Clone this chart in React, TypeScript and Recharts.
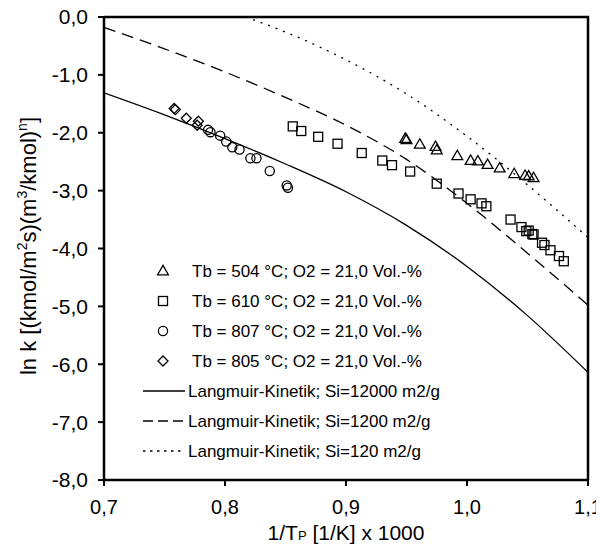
import { Scatter, ScatterChart, XAxis, YAxis } from 'recharts';

const FONT = '"Liberation Sans", Arial, Helvetica, sans-serif';

const xTicks = [0.7, 0.8, 0.9, 1.0, 1.1];
const yTicks = [0, -1, -2, -3, -4, -5, -6, -7, -8];

// measured points [1/T x 1000, ln k]
const tb504 = [
  [0.949, -2.1], [0.95, -2.12], [0.961, -2.2], [0.974, -2.24], [0.975, -2.3],
  [0.992, -2.4], [1.003, -2.48], [1.009, -2.49], [1.017, -2.55], [1.027, -2.61],
  [1.039, -2.71], [1.048, -2.74], [1.051, -2.75], [1.055, -2.78],
];
const tb610 = [
  [0.856, -1.89], [0.863, -1.97], [0.877, -2.07], [0.893, -2.19], [0.913, -2.35],
  [0.93, -2.48], [0.938, -2.56], [0.953, -2.67], [0.975, -2.88], [0.993, -3.05],
  [1.003, -3.15], [1.012, -3.22], [1.016, -3.27], [1.036, -3.5], [1.045, -3.63],
  [1.049, -3.7], [1.051, -3.69], [1.054, -3.75], [1.055, -3.76], [1.062, -3.9],
  [1.064, -3.94], [1.069, -4.03], [1.076, -4.13], [1.08, -4.22],
];
const tb807 = [
  [0.786, -1.95], [0.788, -1.99], [0.796, -2.05], [0.801, -2.15], [0.806, -2.25],
  [0.812, -2.29], [0.821, -2.44], [0.826, -2.44], [0.837, -2.66], [0.851, -2.91],
  [0.852, -2.95],
];
const tb805 = [
  [0.758, -1.58], [0.759, -1.6], [0.768, -1.75], [0.778, -1.8], [0.777, -1.87],
];

// Langmuir model curves
const curveX = [0.7, 0.75, 0.8, 0.85, 0.9, 0.95, 1.0, 1.05, 1.1];
const si12000 = [-1.31, -1.69, -2.1, -2.54, -3.02, -3.6, -4.31, -5.16, -6.14];
const si1200 = [-0.18, -0.55, -0.95, -1.39, -1.87, -2.46, -3.22, -4.08, -4.98];
const si120X = [0.817, 0.85, 0.9, 0.95, 1.0, 1.05, 1.1];
const si120 = [0.0, -0.26, -0.74, -1.33, -2.06, -2.9, -3.81];

const legendLabels = [
  'Tb = 504 °C; O2 = 21,0 Vol.-%',
  'Tb = 610 °C; O2 = 21,0 Vol.-%',
  'Tb = 807 °C; O2 = 21,0 Vol.-%',
  'Tb = 805 °C; O2 = 21,0 Vol.-%',
  'Langmuir-Kinetik; Si=12000 m2/g',
  'Langmuir-Kinetik; Si=1200 m2/g',
  'Langmuir-Kinetik; Si=120 m2/g',
];

type Kind = 'triangle' | 'square' | 'circle' | 'diamond';

const toPoints = (rows: number[][]) => rows.map(([x, y]) => ({ x, y }));
const toCurve = (xs: number[], ys: number[]) => xs.map((x, i) => ({ x, y: ys[i] }));
const fmt = (v: number) => v.toFixed(1).replace('.', ',');

function Marker({ kind, cx, cy }: { kind: Kind; cx: number; cy: number }) {
  const common = { fill: 'none', stroke: '#000', strokeWidth: 1.3 };
  if (kind === 'triangle')
    return (
      <polygon
        points={`${cx},${cy - 5.6} ${cx - 5.4},${cy + 3.8} ${cx + 5.4},${cy + 3.8}`}
        {...common}
      />
    );
  if (kind === 'square') return <rect x={cx - 4.5} y={cy - 4.5} width={9} height={9} {...common} />;
  if (kind === 'circle') return <circle cx={cx} cy={cy} r={4.6} {...common} />;
  return (
    <polygon points={`${cx},${cy - 5} ${cx + 5},${cy} ${cx},${cy + 5} ${cx - 5},${cy}`} {...common} />
  );
}

const markerShape = (kind: Kind) => (p: any) => <Marker kind={kind} cx={p.cx} cy={p.cy} />;
const noShape = () => <g />;

function YTitle() {
  const x = 36;
  const y = 246;
  return (
    <text
      x={x}
      y={y}
      transform={`rotate(-90, ${x}, ${y})`}
      textAnchor="middle"
      fontSize={22}
      fontFamily={FONT}
      fill="#000"
    >
      ln k [(kmol/m
      <tspan dy={-9} fontSize={14}>2</tspan>
      <tspan dy={9}>s)(m</tspan>
      <tspan dy={-9} fontSize={14}>3</tspan>
      <tspan dy={9}>/kmol)</tspan>
      <tspan dy={-9} fontSize={14}>n</tspan>
      <tspan dy={9}>]</tspan>
    </text>
  );
}

function XTitle() {
  return (
    <text x={346} y={540} textAnchor="middle" fontSize={21} fontFamily={FONT} fill="#000">
      1/T<tspan fontSize={13}>P</tspan> [1/K] x 1000
    </text>
  );
}

const kinds: Kind[] = ['triangle', 'square', 'circle', 'diamond'];
const legendDash = [undefined, '10 5', '2.5 4.5'];

// frame (top and right edges) + legend drawn over the chart
function Overlay() {
  return (
    <svg
      width={604}
      height={544}
      style={{ position: 'absolute', left: 0, top: 0, pointerEvents: 'none' }}
    >
      <polyline points="104,17 588,17 588,480" fill="none" stroke="#000" strokeWidth={2.5} />
      {legendLabels.map((label, i) => {
        const cy = 271 + 30 * i;
        const isMarker = i < 4;
        return (
          <g key={label}>
            {isMarker ? (
              <Marker kind={kinds[i]} cx={163} cy={cy} />
            ) : (
              <line
                x1={143}
                x2={185}
                y1={cy}
                y2={cy}
                stroke="#000"
                strokeWidth={1.3}
                strokeDasharray={legendDash[i - 4]}
              />
            )}
            <text x={isMarker ? 192 : 188} y={cy + 6} fontSize={17} fontFamily={FONT} fill="#000">
              {label}
            </text>
          </g>
        );
      })}
    </svg>
  );
}

export default function App() {
  const axisLine = { stroke: '#000', strokeWidth: 2.5 };
  const tickLine = { stroke: '#000', strokeWidth: 2 };
  const xTick = { fill: '#000', fontSize: 20, fontFamily: FONT };
  const yTick = { fill: '#000', fontSize: 21, fontFamily: FONT };
  return (
    <div style={{ position: 'relative', width: 596, height: 536, fontFamily: FONT }}>
      <div style={{ position: 'absolute', left: -8, top: -8, width: 604, height: 544 }}>
        <ScatterChart width={604} height={544} margin={{ top: 17, right: 16, bottom: 0, left: 8 }}>
          <XAxis
            type="number"
            dataKey="x"
            domain={[0.7, 1.1]}
            ticks={xTicks}
            interval={0}
            tickFormatter={fmt}
            allowDataOverflow
            axisLine={axisLine}
            tickLine={tickLine}
            tickSize={6}
            tickMargin={14}
            tick={xTick}
            height={64}
            label={<XTitle />}
          />
          <YAxis
            type="number"
            dataKey="y"
            domain={[-8, 0]}
            ticks={yTicks}
            interval={0}
            tickFormatter={fmt}
            allowDataOverflow
            axisLine={axisLine}
            tickLine={tickLine}
            tickSize={6}
            tickMargin={10}
            tick={yTick}
            width={96}
            label={<YTitle />}
          />
          <Scatter
            name="Langmuir-Kinetik; Si=12000 m2/g"
            data={toCurve(curveX, si12000)}
            line={{ stroke: '#000', strokeWidth: 1.3 }}
            lineJointType="monotoneX"
            shape={noShape}
            isAnimationActive={false}
          />
          <Scatter
            name="Langmuir-Kinetik; Si=1200 m2/g"
            data={toCurve(curveX, si1200)}
            line={{ stroke: '#000', strokeWidth: 1.3, strokeDasharray: '12 7' }}
            lineJointType="monotoneX"
            shape={noShape}
            isAnimationActive={false}
          />
          <Scatter
            name="Langmuir-Kinetik; Si=120 m2/g"
            data={toCurve(si120X, si120)}
            line={{ stroke: '#000', strokeWidth: 1.3, strokeDasharray: '2 6' }}
            lineJointType="monotoneX"
            shape={noShape}
            isAnimationActive={false}
          />
          <Scatter name="Tb = 504" data={toPoints(tb504)} shape={markerShape('triangle')} isAnimationActive={false} />
          <Scatter name="Tb = 610" data={toPoints(tb610)} shape={markerShape('square')} isAnimationActive={false} />
          <Scatter name="Tb = 807" data={toPoints(tb807)} shape={markerShape('circle')} isAnimationActive={false} />
          <Scatter name="Tb = 805" data={toPoints(tb805)} shape={markerShape('diamond')} isAnimationActive={false} />
        </ScatterChart>
        <Overlay />
      </div>
    </div>
  );
}
